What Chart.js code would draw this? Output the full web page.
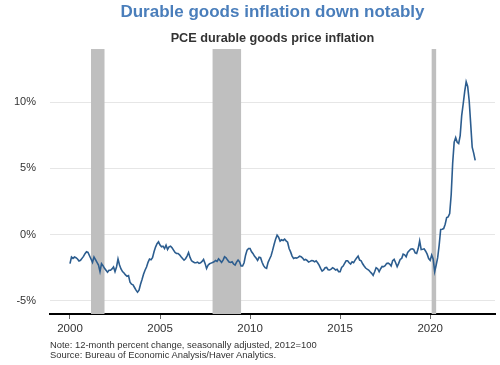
<!DOCTYPE html>
<html>
<head>
<meta charset="utf-8">
<script src="https://cdn.jsdelivr.net/npm/chart.js@4"></script>
<style>
  body { margin: 0; background: #fff; }
  #wrap { position: relative; width: 500px; height: 365px; }
  #notes { position: absolute; left: 50px; top: 340px; font: 9.4px Arial, "Liberation Sans", sans-serif; line-height: 10px; color: #333; white-space: nowrap; }
</style>
</head>
<body>
<div id="wrap">
  <canvas id="myLine" width="500" height="365"></canvas>
  <div id="notes">Note: 12-month percent change, seasonally adjusted, 2012=100<br>Source: Bureau of Economic Analysis/Haver Analytics.</div>
</div>
<script>
// monthly, starting Jan 2000
let startYear = 2000
let pceDurables = [
  -2.2, -1.7, -1.8, -1.7, -1.75, -1.85, -2.0, -1.95, -1.8, -1.65, -1.45, -1.3,     // 2000
  -1.35, -1.6, -1.85, -2.1, -1.7, -1.9, -2.1, -2.3, -2.8, -2.2, -2.35, -2.55,      // 2001
  -2.7, -2.85, -2.7, -2.7, -2.6, -2.45, -2.8, -2.45, -1.85, -2.3, -2.6, -2.8,      // 2002
  -2.9, -3.05, -3.15, -3.1, -3.6, -3.75, -3.8, -4.0, -4.2, -4.35, -4.2, -3.75,     // 2003
  -3.4, -3.0, -2.7, -2.45, -2.1, -1.85, -1.9, -1.75, -1.3, -0.95, -0.7, -0.55,     // 2004
  -0.8, -0.93, -0.88, -1.06, -0.8, -1.13, -0.93, -0.88, -1.0, -1.18, -1.36, -1.43, // 2005
  -1.43, -1.53, -1.68, -1.81, -1.93, -1.83, -1.63, -1.36, -1.73, -1.98, -2.06, -2.13, // 2006
  -2.13, -2.08, -2.18, -2.13, -2.03, -1.88, -2.18, -2.56, -2.31, -2.21, -2.16, -2.11, // 2007
  -2.06, -1.96, -2.03, -1.83, -1.96, -2.11, -1.93, -1.68, -1.76, -1.93, -2.08, -2.11, // 2008
  -2.06, -2.23, -2.31, -2.08, -1.93, -2.06, -2.38, -2.38, -2.13, -1.56, -1.18, -1.06, // 2009
  -1.06, -1.3, -1.45, -1.65, -1.78, -1.95, -1.72, -1.75, -2.1, -2.35, -2.5, -2.55,   // 2010
  -2.1, -1.85, -1.6, -1.2, -0.75, -0.35, -0.05, -0.2, -0.5, -0.4, -0.45, -0.35,      // 2011
  -0.48, -0.58, -1.06, -1.31, -1.63, -1.81, -1.76, -1.78, -1.73, -1.63, -1.68, -1.78, // 2012
  -1.93, -1.88, -1.96, -2.08, -2.03, -1.96, -1.98, -2.06, -1.98, -2.13, -2.31, -2.56, // 2013
  -2.76, -2.68, -2.51, -2.48, -2.66, -2.68, -2.61, -2.51, -2.58, -2.68, -2.63, -2.81, // 2014
  -2.81, -2.48, -2.38, -2.18, -1.98, -1.98, -2.13, -2.23, -2.06, -2.13, -1.93, -1.78, // 2015
  -1.63, -1.93, -1.98, -2.21, -2.38, -2.53, -2.61, -2.68, -2.81, -2.93, -3.09, -2.81, // 2016
  -2.51, -2.58, -2.81, -2.58, -2.41, -2.43, -2.36, -2.18, -2.16, -2.23, -2.38, -1.98, // 2017
  -1.88, -2.13, -2.43, -2.18, -1.88, -1.81, -1.48, -1.53, -1.68, -1.36, -1.23, -1.11, // 2018
  -1.08, -1.13, -1.38, -1.43, -1.06, -0.48, -1.13, -1.11, -1.08, -1.26, -1.48, -1.81, // 2019
  -1.95, -1.55, -1.85, -2.8, -2.3, -1.75, -0.8, 0.38, 0.4, 0.45, 0.78, 1.28,          // 2020
  1.33, 1.58, 3.0, 5.4, 6.97, 7.32, 6.97, 6.87, 7.47, 8.97, 9.85, 10.78,             // 2021
  11.53, 11.18, 10.1, 8.35, 6.59, 6.14, 5.59                                          // 2022
]
let yearTicks = [2000, 2005, 2010, 2015, 2020]
let pctTicks = [-5, 0, 5, 10]
// recessions (start, end as year fractions)
let recStart = [2001.167, 2007.917, 2020.083]
let recEnd = [2001.917, 2009.5, 2020.333]

let points = pceDurables.map((v, i) => ({ x: startYear + i / 12, y: v }))

const recessionBars = {
  id: 'recessionBars',
  beforeDatasetsDraw(chart) {
    const { ctx, chartArea, scales } = chart
    ctx.save()
    ctx.fillStyle = '#bfbfbf'
    for (let i = 0; i < recStart.length; i++) {
      let x0 = scales.x.getPixelForValue(recStart[i])
      let x1 = scales.x.getPixelForValue(recEnd[i])
      ctx.fillRect(x0, chartArea.top, x1 - x0, chartArea.bottom - chartArea.top)
    }
    ctx.restore()
  }
}

Chart.defaults.font.family = 'Arial, "Liberation Sans", sans-serif'

let cht = document.getElementById('myLine')
let lineChart = new Chart(cht, {
  type: 'line',
  data: {
    datasets: [{
      data: points,
      borderColor: '#2c5d8f',
      borderWidth: 1.6,
      pointRadius: 0,
      tension: 0,
      fill: false
    }]
  },
  plugins: [recessionBars],
  options: {
    responsive: false,
    animation: false,
    layout: { padding: { left: 0, right: 5, top: 0, bottom: 21 } },
    plugins: {
      legend: { display: false },
      tooltip: { enabled: false },
      title: {
        display: true,
        fullSize: false,
        text: 'Durable goods inflation down notably',
        color: '#4a7ebb',
        font: { size: 17, weight: 'bold' },
        padding: { top: 2, bottom: 4 }
      },
      subtitle: {
        display: true,
        fullSize: false,
        text: 'PCE durable goods price inflation',
        color: '#333',
        font: { size: 12.7, weight: 'bold' },
        padding: { top: 4, bottom: 3.4 }
      }
    },
    scales: {
      x: {
        type: 'linear',
        min: 1998.89,
        max: 2023.6,
        afterBuildTicks: (s) => { s.ticks = yearTicks.map(v => ({ value: v })) },
        afterFit: (s) => { s.height = 30 },
        grid: { drawOnChartArea: false, drawTicks: true, tickLength: 5, color: '#666' },
        border: { color: '#000', width: 2 },
        ticks: { color: '#333', font: { size: 11.5 }, padding: 3, callback: (v) => v }
      },
      y: {
        min: -6,
        max: 14,
        afterBuildTicks: (s) => { s.ticks = pctTicks.map(v => ({ value: v })) },
        afterFit: (s) => { s.width = 50 },
        grid: { color: '#e6e6e6', drawTicks: false },
        border: { display: false },
        ticks: { color: '#333', font: { size: 11 }, padding: 14, callback: (v) => v + '%' }
      }
    }
  }
})
</script>
</body>
</html>
